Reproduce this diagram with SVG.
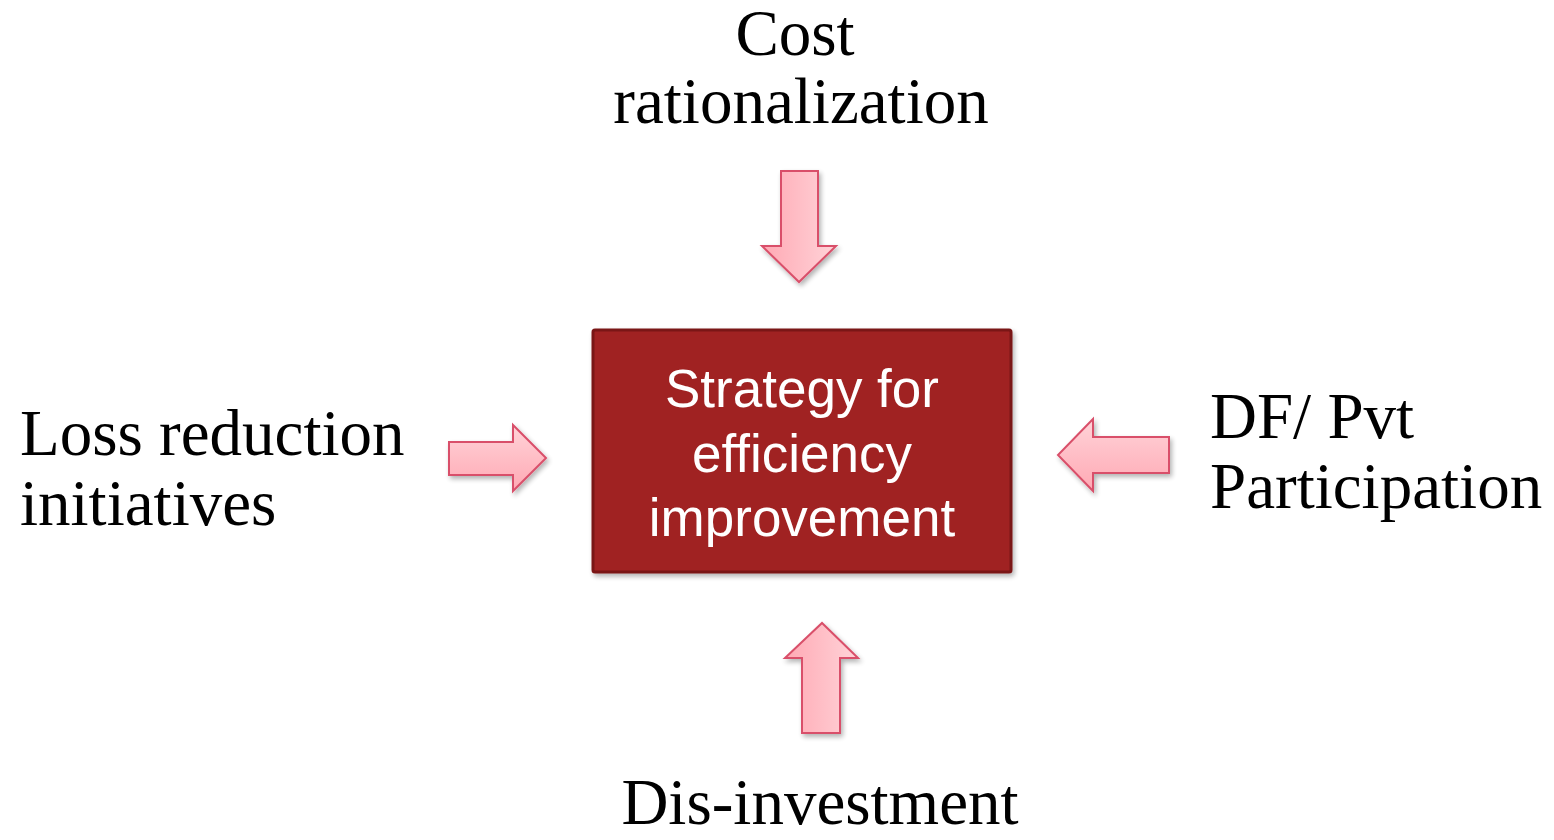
<svg xmlns="http://www.w3.org/2000/svg" width="1554" height="840" viewBox="0 0 1554 840">
<defs>
<linearGradient id="gh" x1="0" y1="0" x2="1" y2="0">
<stop offset="0" stop-color="#ffa9b4"/>
<stop offset="1" stop-color="#ffd3d8"/>
</linearGradient>
<linearGradient id="gv" x1="0" y1="0" x2="0" y2="1">
<stop offset="0" stop-color="#ffd3d8"/>
<stop offset="1" stop-color="#ffa9b4"/>
</linearGradient>
<filter id="sh" x="-20%" y="-20%" width="150%" height="150%">
<feGaussianBlur in="SourceAlpha" stdDeviation="2.5"/>
<feOffset dx="2" dy="3" result="b"/>
<feComponentTransfer><feFuncA type="linear" slope="0.3"/></feComponentTransfer>
<feMerge><feMergeNode/><feMergeNode in="SourceGraphic"/></feMerge>
</filter>
</defs>
<style>
.lbl{font-family:"Liberation Serif","Times New Roman",serif;font-size:65px;fill:#000}
.box{fill:#a02020;stroke:#7a1515;stroke-width:3}
.btx{font-family:"Liberation Sans",Arial,sans-serif;font-size:53px;fill:#fff;text-anchor:middle}
.arr{stroke:#d9506a;stroke-width:2;stroke-linejoin:miter}
</style>
<g id="center">
<rect class="box" x="593" y="330" width="418" height="242" rx="2" filter="url(#sh)"/>
<text class="btx" x="802" y="407">Strategy for</text>
<text class="btx" x="802" y="472">efficiency</text>
<text class="btx" x="802" y="536">improvement</text>
</g>
<g id="top">
<text class="lbl" x="795" y="55" text-anchor="middle">Cost</text>
<text class="lbl" x="801" y="123" text-anchor="middle">rationalization</text>
</g>
<g id="left">
<text class="lbl" x="20" y="455">Loss reduction</text>
<text class="lbl" x="20" y="525">initiatives</text>
</g>
<g id="right">
<text class="lbl" x="1210" y="438">DF/ Pvt</text>
<text class="lbl" x="1210" y="508">Participation</text>
</g>
<g id="bottom">
<text class="lbl" x="820" y="824" text-anchor="middle">Dis-investment</text>
</g>
<g id="connectors" filter="url(#sh)">
<path class="arr" fill="url(#gh)" d="M781,171 H818 V246 H836 L799,282 L762,246 H781 Z"/>
<path class="arr" fill="url(#gh)" d="M802,733 H840 V658 H858 L822,623 L785,658 H802 Z"/>
<path class="arr" fill="url(#gv)" d="M449,442 H513 V425 L546,458 L513,491 V475 H449 Z"/>
<path class="arr" fill="url(#gv)" d="M1169,437 H1093 V419 L1058,455 L1093,491 V473 H1169 Z"/>
</g>
</svg>
